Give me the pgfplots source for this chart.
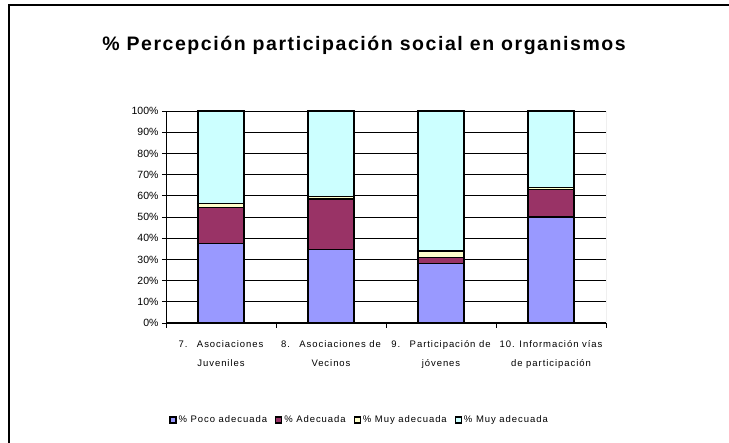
\documentclass[border=0pt]{standalone}
\usepackage{fontspec}
\setmainfont{Liberation Sans}
\newfontfamily\spaced[LetterSpace=10]{Liberation Sans}
\newfontfamily\titlefont[LetterSpace=8]{Liberation Sans}
\usepackage{pgfplots}
\pgfplotsset{compat=1.18}
\definecolor{poco}{HTML}{9999FF}
\definecolor{adec}{HTML}{993366}
\definecolor{muy}{HTML}{FFFFCC}
\definecolor{muyb}{HTML}{CCFFFF}
\begin{document}
\begin{tikzpicture}[x=1pt,y=1pt]
\path[use as bounding box] (0,0) rectangle (729,443);
\draw[line width=2pt] (9,0) -- (9,438) -- (729,438);
\node[font=\titlefont\fontsize{19.5}{22}\selectfont\bfseries] at (364,398) {\% Percepción participación social en organismos};
\begin{axis}[
  at={(166pt,120pt)}, anchor=south west,
  scale only axis, width=440pt, height=212pt,
  ybar stacked, bar width=46pt,
  xmin=-0.5, xmax=3.5, ymin=0, ymax=100,
  xtick={0,1,2,3},
  xticklabels={{7.\quad Asociaciones\\Juveniles},{8.\quad Asociaciones de\\Vecinos},{9.\quad Participación de\\jóvenes},{10. Información vías\\de participación}},
  xticklabel style={align=center, font=\spaced\fontsize{9.5}{19}\selectfont, yshift=-10pt},
  major x tick style={draw=none},
  minor xtick={-0.5,0.5,1.5,2.5,3.5},
  minor tick length=5pt,
  minor x tick style={black, line width=0.8pt},
  ytick={0,10,...,100},
  yticklabel={\pgfmathprintnumber{\tick}\%},
  yticklabel style={font=\fontsize{10.5}{12}\selectfont, /pgf/number format/assume math mode=true},
  /pgf/number format/assume math mode=true,
  tick align=outside, major tick length=4pt,
  ymajorgrids, grid style={black, line width=0.8pt},
  axis x line*=bottom, axis y line*=left,
  axis line style={black, line width=1pt, -},
  y tick style={black, line width=0.8pt},
  legend columns=4,
  legend style={at={(0.44,-0.458)}, anchor=center, draw=none, font=\spaced\fontsize{9.5}{11}\selectfont, /tikz/every even column/.append style={column sep=6pt}},
  legend image code/.code={\draw[#1, line width=1.2pt] (0pt,-3pt) rectangle (6pt,3pt);},
  every axis plot/.append style={draw=black, line width=1.2pt},
]
\addplot[fill=poco] coordinates {(0,37.5) (1,34.5) (2,28) (3,50)};
\addplot[fill=adec] coordinates {(0,17) (1,24) (2,3) (3,13)};
\addplot[fill=muy] coordinates {(0,2) (1,1) (2,3) (3,1)};
\addplot[fill=muyb] coordinates {(0,43.5) (1,40.5) (2,66) (3,36)};
\legend{\% Poco adecuada,\% Adecuada,\% Muy adecuada,\% Muy adecuada}
\draw[gray, line width=1pt] (rel axis cs:1,0) -- (rel axis cs:1,1);
\end{axis}
\end{tikzpicture}
\end{document}
